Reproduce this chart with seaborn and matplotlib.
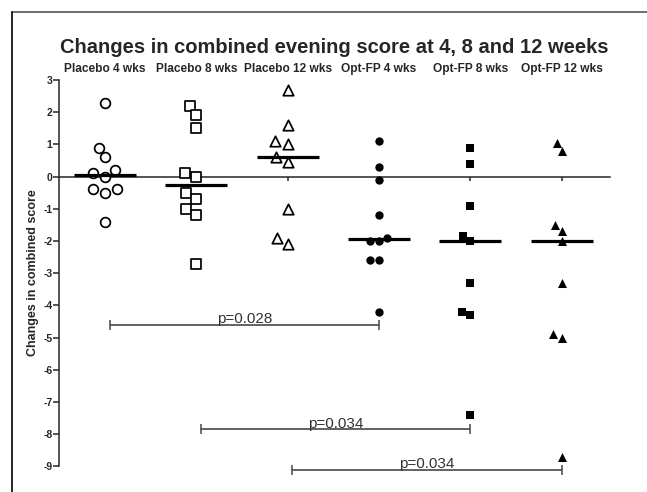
import matplotlib.pyplot as plt
from matplotlib.lines import Line2D
import numpy as np
import pandas as pd
import seaborn as sns

# groups and individual changes in combined evening score
groups = ['Placebo 4 wks', 'Placebo 8 wks', 'Placebo 12 wks',
          'Opt-FP 4 wks', 'Opt-FP 8 wks', 'Opt-FP 12 wks']
placebo_4 = [2.3, 0.9, 0.6, 0.2, 0.0, 0.1, -0.4, -0.5, -0.4, -1.4]
placebo_8 = [2.2, 1.9, 1.5, 0.1, 0.0, -0.5, -0.7, -1.0, -1.2, -2.7]
placebo_12 = [2.7, 1.6, 1.1, 1.0, 0.45, 0.6, -1.0, -1.9, -2.1]
optfp_4 = [1.1, 0.3, -0.1, -1.2, -1.9, -2.0, -2.0, -2.6, -2.6, -4.2]
optfp_8 = [0.9, 0.4, -0.9, -1.85, -2.0, -3.3, -4.2, -4.3, -7.4]
optfp_12 = [1.05, 0.8, -1.5, -1.7, -2.0, -3.3, -4.9, -5.0, -8.7]
values = [placebo_4, placebo_8, placebo_12, optfp_4, optfp_8, optfp_12]

# pairwise comparisons drawn under the points
p_labels = ['p=0.028', 'p=0.034', 'p=0.034']
p_from = [0, 1, 2]
p_to = [3, 4, 5]
p_level = [-4.6, -7.85, -9.1]

markers = ['o', 's', '^', 'o', 's', '^']
hollow = [True, True, True, False, False, False]
sizes = [7.0, 7.0, 7.5, 6.0, 6.0, 6.5]

df = pd.DataFrame({
    'group': np.repeat(groups, [len(v) for v in values]),
    'score': np.concatenate(values),
})

sns.set_style('ticks')
plt.rcParams['font.family'] = ['Liberation Sans', 'DejaVu Sans']

fig = plt.figure(figsize=(6.47, 4.92), dpi=100)
ax = fig.add_axes([0.0917, 0.0325, 0.8513, 0.8115])

for i, g in enumerate(groups):
    sub = df[df['group'] == g]
    if hollow[i]:
        sns.swarmplot(data=sub, x='group', y='score', order=groups, ax=ax,
                      marker=markers[i], size=sizes[i], color='white',
                      edgecolor='black', linewidth=1.25, zorder=3)
        ax.collections[-1].set_facecolor('none')
    else:
        sns.swarmplot(data=sub, x='group', y='score', order=groups, ax=ax,
                      marker=markers[i], size=sizes[i], color='black',
                      edgecolor='black', linewidth=0, zorder=3)

# median lines
med = df.groupby('group', sort=False)['score'].median().reindex(groups)
ax.hlines(med.values, np.arange(len(groups)) - 0.34, np.arange(len(groups)) + 0.34,
          color='black', lw=2.3, zorder=4)

# comparison bars
for lab, a, b, lvl in zip(p_labels, p_from, p_to, p_level):
    ax.plot([a + 0.05, b], [lvl, lvl], color='#555555', lw=1.3,
            marker='|', markersize=7, markeredgewidth=1.2)
    ax.text((a + 0.05 + b) / 2, lvl - 0.04, lab, ha='center', va='bottom',
            fontsize=11, color='#333333')

ax.set_xlim(-0.5, 5.53)
ax.set_ylim(-9.3, 3.1)
ax.set_yticks(range(-9, 4))
ax.set_yticklabels([str(t) for t in range(-9, 4)], fontsize=7.5, fontweight='bold')
ax.spines['left'].set_bounds(-9, 3)
ax.spines['left'].set_linewidth(1.1)
ax.spines['bottom'].set_linewidth(1.1)
ax.tick_params(axis='y', length=4, width=1.1, pad=1)
ax.tick_params(axis='x', length=3, width=1.1, labelbottom=False)
sns.despine(ax=ax)
ax.spines['bottom'].set_position(('data', 0))
ax.set_xlabel('')
ax.set_ylabel('Changes in combined score', fontsize=9, fontweight='bold')
ax.yaxis.set_label_coords(-0.037, 0.5085)

top = ax.secondary_xaxis('top')
top.set_xticks(range(len(groups)), labels=groups)
top.tick_params(length=0, pad=1, labelsize=8.6)
for t in top.get_xticklabels():
    t.set_fontweight('bold')
top.spines['top'].set_visible(False)

fig.text(0.516, 0.904, 'Changes in combined evening score at 4, 8 and 12 weeks',
         ha='center', va='center', fontsize=14.5, fontweight='bold')

# outer frame
fig.add_artist(Line2D([12 / 647, 1.0], [1 - 12 / 492] * 2, color='#555555', lw=1.2))
fig.add_artist(Line2D([12 / 647] * 2, [0.0, 1 - 12 / 492], color='black', lw=1.2))

fig.savefig('out.png', dpi=100)
